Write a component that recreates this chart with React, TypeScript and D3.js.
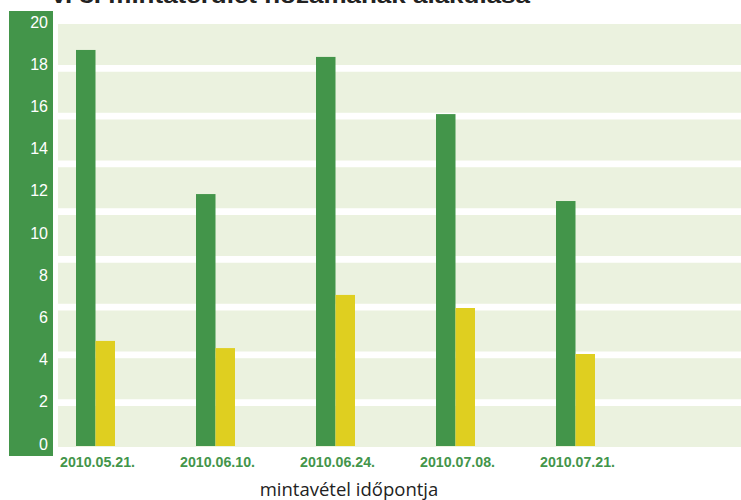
import React from "react";
import * as d3 from "d3";

const categories = ["2010.05.21.", "2010.06.10.", "2010.06.24.", "2010.07.08.", "2010.07.21."];
const greenValues = [18.77, 11.94, 18.44, 15.73, 11.61];
const yellowValues = [4.98, 4.64, 7.16, 6.54, 4.36];
const yTicks = [0, 2, 4, 6, 8, 10, 12, 14, 16, 18, 20];
const bandIndices = [0, 1, 2, 3, 4, 5, 6, 7, 8];
const titleText = "V. 3. mintaterület hozamának alakulása";
const xAxisTitle = "mintavétel időpontja";

const W = 741;
const H = 500;
const GREEN = "#43954a";
const YELLOW = "#dfcf20";
const BG = "#ebf2df";

export default function App() {
  const y = d3.scaleLinear().domain([0, 20]).range([446, 24]);
  const x = d3
    .scaleBand<string>()
    .domain(categories)
    .range([58, 613])
    .paddingInner(0.675)
    .paddingOuter(0.15);
  const sub = d3.scaleBand<string>().domain(["g", "y"]).range([0, x.bandwidth()]);
  const bands = d3
    .scaleBand<number>()
    .domain(bandIndices)
    .range([24, 447])
    .paddingInner(0.141)
    .paddingOuter(0);

  return (
    <svg
      width={W}
      height={H}
      style={{ position: "absolute", left: 0, top: 0, background: "#fff" }}
    >
      {/* title (cut off at top, as in the reference) */}
      <text
        x={50}
        y={3}
        fontFamily="Liberation Sans, Arial, sans-serif"
        fontWeight="bold"
        fontSize={22}
        fill="#222"
        textLength={480}
        lengthAdjust="spacingAndGlyphs"
      >
        {titleText}
      </text>

      {/* left axis panel */}
      <rect x={9} y={11} width={44} height={445} fill={GREEN} />
      {yTicks.map((t) => (
        <text
          key={t}
          x={48}
          y={y(t) - 2}
          dominantBaseline="central"
          textAnchor="end"
          fill="#fff"
          fontFamily="Liberation Sans, Arial, sans-serif"
          fontSize={16}
        >
          {t}
        </text>
      ))}

      {/* background bands */}
      {bandIndices.map((i) => (
        <rect key={i} x={58} y={bands(i)} width={W - 58} height={bands.bandwidth()} fill={BG} />
      ))}

      {/* bars */}
      {categories.map((c, i) => (
        <g key={c}>
          <rect
            x={(x(c) as number) + (sub("g") as number)}
            y={y(greenValues[i])}
            width={sub.bandwidth()}
            height={y(0) - y(greenValues[i])}
            fill={GREEN}
          />
          <rect
            x={(x(c) as number) + (sub("y") as number)}
            y={y(yellowValues[i])}
            width={sub.bandwidth()}
            height={y(0) - y(yellowValues[i])}
            fill={YELLOW}
          />
          <text
            x={(x(c) as number) + x.bandwidth() / 2 + 2}
            y={467}
            textAnchor="middle"
            fill={GREEN}
            fontFamily="Liberation Sans, Arial, sans-serif"
            fontWeight="bold"
            fontSize={14.2}
          >
            {c}
          </text>
        </g>
      ))}

      {/* x axis title */}
      <text
        x={349}
        y={496}
        textAnchor="middle"
        fill="#222"
        fontFamily="Open Sans, Noto Sans, sans-serif"
        fontSize={18.5}
      >
        {xAxisTitle}
      </text>
    </svg>
  );
}
